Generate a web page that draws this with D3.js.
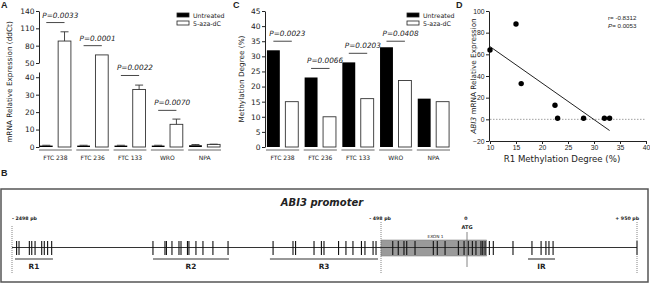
<!DOCTYPE html>
<html>
<head>
<meta charset="utf-8">
<script src="https://cdn.jsdelivr.net/npm/d3@7"></script>
<style>
  body { margin: 0; background: #fff; }
  text { font-family: "DejaVu Sans", sans-serif; fill: #222; }
</style>
</head>
<body>
<svg id="fig" width="650" height="284"></svg>
<script>
// ---- data ----
const groups = ["FTC 238", "FTC 236", "FTC 133", "WRO", "NPA"];

// panel A: ABI3 mRNA relative expression (ddCt), mean + error
const exprUntreated = [0.8, 0.8, 0.8, 0.8, 1.0];
const exprUntreatedErr = [0.2, 0.2, 0.2, 0.2, 0.4];
const exprTreated = [88, 64, 33, 13, 1.5];
const exprTreatedErr = [16, 0, 2.5, 3, 0.1];
const exprPText = ["P=0.0033", "P=0.0001", "P=0.0022", "P=0.0070"];
const exprPLevel = [120, 80, 41, 21];

// panel C: methylation degree (%)
const methUntreated = [32, 23, 28, 33, 16];
const methTreated = [15, 10, 16, 22, 15];
const methPText = ["P=0.0023", "P=0.0066", "P=0.0203", "P=0.0408"];
const methPLevel = [35, 26, 31, 35];

// panel D: R1 methylation vs ABI3 expression
const r1Methylation = [10, 15, 16, 22.5, 23, 28, 32, 33];
const r1Expression = [64, 88, 33, 13, 1, 1, 1, 1];

// panel B: promoter map (positions in bp relative to ATG)
const cpgSites = [-2473, -2460, -2404, -2391, -2373, -2337, -2323, -2305, -2283,
  -1734, -1669, -1661, -1631, -1593, -1582, -1547, -1539, -1501, -1463, -1409, -1327,
  -1083, -975, -961, -861, -821, -807, -728, -688, -650, -604, -585, -541, -525,
  -430, -398, -365, -349, -301, -195, -172, -127, -50, -17,
  7, 30, 50, 78, 88, 101, 125, 147, 257, 363, 414, 441, 458, 481, 950];
const regionNames = ["R1", "R2", "R3", "IR"];
const regionStart = [-2482, -1734, -1100, 341];
const regionEnd = [-2276, -1322, -514, 492];
const exon = [-498, 110];
const landmarkPos = [-2498, -498, 0, 950];
const landmarkText = ["- 2498 pb", "- 498 pb", "0", "+ 950 pb"];

const svg = d3.select("#fig");
const ink = "#222";

function styleAxis(g, size, family) {
  g.attr("font-family", family || "DejaVu Sans").attr("font-size", size || 7.5);
  g.select(".domain").attr("stroke", ink);
  g.selectAll(".tick line").attr("stroke", ink);
  g.selectAll(".tick text").attr("fill", ink).style("font-family", family || "DejaVu Sans");
}

function panelLabel(x, y, t) {
  svg.append("text").attr("x", x).attr("y", y).text(t)
    .style("font-family", "Liberation Sans").attr("font-weight", "bold").attr("font-size", 9);
}

function legend(x, y) {
  const g = svg.append("g").attr("transform", `translate(${x},${y})`);
  [["#000", "Untreated"], ["#fff", "5-aza-dC"]].forEach((d, i) => {
    g.append("rect").attr("x", 0).attr("y", i * 8).attr("width", 12).attr("height", 4)
      .attr("fill", d[0]).attr("stroke", ink).attr("stroke-width", 0.8);
    g.append("text").attr("x", 16).attr("y", i * 8 + 4.5).text(d[1]).attr("font-size", 6.3);
  });
}

// grouped bar panel shared by A and C
function barPanel(opt) {
  const x = d3.scaleBand().domain(groups).range(opt.range).paddingInner(0.12);
  const sub = d3.scaleBand().domain(["u", "t"]).range([0, x.bandwidth()])
    .paddingInner(0.3).paddingOuter(0.05);
  const y = opt.y;
  const base = y(0);
  const rows = groups.map((g, i) => ({
    g: g, u: opt.u[i], ue: opt.ue ? opt.ue[i] : 0, t: opt.t[i], te: opt.te ? opt.te[i] : 0
  }));

  const g = svg.append("g");
  rows.forEach(d => {
    const x0 = x(d.g);
    [["u", d.u, d.ue, "#000"], ["t", d.t, d.te, "#fff"]].forEach(b => {
      const bx = x0 + sub(b[0]);
      g.append("rect").attr("x", bx).attr("y", y(b[1])).attr("width", sub.bandwidth())
        .attr("height", base - y(b[1])).attr("fill", b[3])
        .attr("stroke", b[3] === "#000" ? "none" : "#333").attr("stroke-width", 0.9);
      if (b[2] > 0) {
        const cx = bx + sub.bandwidth() / 2;
        g.append("line").attr("x1", cx).attr("x2", cx).attr("y1", y(b[1])).attr("y2", y(b[1] + b[2]))
          .attr("stroke", "#333").attr("stroke-width", 0.9);
        g.append("line").attr("x1", cx - 4).attr("x2", cx + 4)
          .attr("y1", y(b[1] + b[2])).attr("y2", y(b[1] + b[2]))
          .attr("stroke", "#333").attr("stroke-width", 0.9);
      }
    });
    // group axis segment and label
    g.append("line").attr("x1", x0).attr("x2", x0 + x.bandwidth())
      .attr("y1", base + 3).attr("y2", base + 3).attr("stroke", "#666").attr("stroke-width", 1);
    g.append("text").attr("x", x0 + x.bandwidth() / 2).attr("y", base + 13)
      .attr("text-anchor", "middle").attr("font-size", 6).text(d.g);
  });

  // significance annotations
  opt.pText.forEach((t, i) => {
    const x0 = x(groups[i]);
    const c1 = x0 + sub("u") + sub.bandwidth() / 2;
    const c2 = x0 + sub("t") + sub.bandwidth() / 2;
    const ly = y(opt.pLevel[i]);
    g.append("line").attr("x1", c1).attr("x2", c2).attr("y1", ly).attr("y2", ly)
      .attr("stroke", "#333").attr("stroke-width", 0.9);
    g.append("text").attr("x", c1 - 4).attr("y", ly - 5).attr("font-size", 7.3)
      .attr("font-style", "italic").text(t);
  });
  return x;
}

// ---------- A ----------
const yLo = d3.scaleLinear().domain([0, 43]).range([147, 72]);
const yHi = d3.scaleLinear().domain([50, 140]).range([63, 11]);
const yA = v => v > 45 ? yHi(v) : yLo(v);

svg.append("g").attr("transform", "translate(39,0)")
  .call(d3.axisLeft(yLo).tickValues([0, 10, 20, 30, 40]).tickSize(3).tickSizeOuter(0).tickPadding(1.5))
  .call(styleAxis);
svg.append("g").attr("transform", "translate(39,0)")
  .call(d3.axisLeft(yHi).tickValues([50, 80, 110, 140]).tickSize(3).tickSizeOuter(0).tickPadding(1.5))
  .call(styleAxis);

barPanel({ range: [39, 221], y: yA, u: exprUntreated, ue: exprUntreatedErr,
  t: exprTreated, te: exprTreatedErr, pText: exprPText, pLevel: exprPLevel });

svg.append("text").attr("transform", "translate(12,82) rotate(-90)")
  .attr("text-anchor", "middle").attr("font-size", 7.3).text("mRNA Relative Expression (ddCt)");
legend(177, 13);
panelLabel(1, 8, "A");

// ---------- C ----------
const yC = d3.scaleLinear().domain([0, 45]).range([147, 11]);
svg.append("g").attr("transform", "translate(265,0)")
  .call(d3.axisLeft(yC).tickValues(d3.range(0, 46, 5)).tickSize(3).tickSizeOuter(0).tickPadding(1.5))
  .call(styleAxis);

barPanel({ range: [266, 450], y: yC, u: methUntreated, t: methTreated,
  pText: methPText, pLevel: methPLevel });

svg.append("text").attr("transform", "translate(244,79) rotate(-90)")
  .attr("text-anchor", "middle").attr("font-size", 7.3).text("Methylation Degree (%)");
legend(407, 13);
panelLabel(233, 8, "C");

// ---------- D ----------
const xD = d3.scaleLinear().domain([10, 40]).range([490, 646]);
const yD = d3.scaleLinear().domain([-20, 100]).range([141, 11]);

svg.append("g").attr("transform", "translate(489,0)")
  .call(d3.axisLeft(yD).tickValues(d3.range(-20, 101, 20)).tickSize(3).tickSizeOuter(0).tickPadding(1.5))
  .call(g => styleAxis(g, 6.8, "Liberation Sans"));
svg.append("g").attr("transform", "translate(0,141)")
  .call(d3.axisBottom(xD).tickValues(d3.range(10, 41, 5)).tickSize(3).tickSizeOuter(0).tickPadding(1.5))
  .call(g => styleAxis(g, 6.8, "Liberation Sans"));

svg.append("line").attr("x1", xD(10)).attr("x2", xD(40)).attr("y1", yD(0)).attr("y2", yD(0))
  .attr("stroke", "#888").attr("stroke-width", 0.8).attr("stroke-dasharray", "1.5,1.5");

// least squares fit through the points
const mx = d3.mean(r1Methylation), my = d3.mean(r1Expression);
const sxy = d3.sum(r1Methylation, (v, i) => (v - mx) * (r1Expression[i] - my));
const sxx = d3.sum(r1Methylation, v => (v - mx) * (v - mx));
const slope = sxy / sxx, icpt = my - slope * mx;
const xr = d3.extent(r1Methylation);
svg.append("line").attr("x1", xD(xr[0])).attr("x2", xD(xr[1]))
  .attr("y1", yD(icpt + slope * xr[0])).attr("y2", yD(icpt + slope * xr[1]))
  .attr("stroke", "#222").attr("stroke-width", 1);

svg.append("g").selectAll("circle")
  .data(r1Methylation.map((v, i) => [v, r1Expression[i]]))
  .enter().append("circle")
  .attr("cx", d => xD(d[0])).attr("cy", d => yD(d[1])).attr("r", 2.7).attr("fill", "#000");

svg.append("text").attr("x", 608).attr("y", 20).attr("font-size", 6.2)
  .style("font-family", "Liberation Sans").text("r= -0.8312");
const pt = svg.append("text").attr("x", 608).attr("y", 27.5).attr("font-size", 6.2)
  .style("font-family", "Liberation Sans");
pt.append("tspan").attr("font-style", "italic").text("P");
pt.append("tspan").text("= 0.0053");

const yl = svg.append("text").attr("transform", "translate(476,76) rotate(-90)")
  .attr("text-anchor", "middle").attr("font-size", 7.3);
yl.append("tspan").attr("font-style", "italic").text("ABI3");
yl.append("tspan").text(" mRNA Relative Expression");
svg.append("text").attr("x", 562).attr("y", 162).attr("text-anchor", "middle")
  .attr("font-size", 8.6).text("R1 Methylation Degree (%)");
panelLabel(456, 8, "D");

// ---------- B : promoter map ----------
panelLabel(1, 176, "B");
svg.append("rect").attr("x", 1).attr("y", 189).attr("width", 647).attr("height", 93)
  .attr("fill", "none").attr("stroke", "#555").attr("stroke-width", 1.5);
svg.append("text").attr("x", 322).attr("y", 206).attr("text-anchor", "middle")
  .attr("font-size", 10).attr("font-weight", "bold").attr("font-style", "italic")
  .text("ABI3 promoter");

const xB = d3.scaleLinear().domain(landmarkPos).range([12, 381, 467, 637]);
const lineY = 247.5;
const gB = svg.append("g");

gB.append("rect").attr("x", xB(exon[0])).attr("y", 240).attr("width", xB(exon[1]) - xB(exon[0]))
  .attr("height", 16).attr("fill", "#9a9a9a").attr("stroke", "#888").attr("stroke-width", 0.6);
gB.append("text").attr("x", xB((exon[0] + exon[1]) / 2) + 2).attr("y", 237.5)
  .attr("text-anchor", "middle").attr("font-size", 4.3).text("EXON 1");

gB.append("line").attr("x1", xB(landmarkPos[0])).attr("x2", xB(landmarkPos[3]))
  .attr("y1", lineY).attr("y2", lineY).attr("stroke", "#333").attr("stroke-width", 1.1);

gB.selectAll("line.cpg").data(cpgSites).enter().append("line").attr("class", "cpg")
  .attr("x1", d => xB(d)).attr("x2", d => xB(d)).attr("y1", 241).attr("y2", 255)
  .attr("stroke", "#111").attr("stroke-width", 1.1);

landmarkPos.forEach((p, i) => {
  const x = xB(p);
  const atg = p === 0;
  gB.append("line").attr("x1", x).attr("x2", x).attr("y1", atg ? 232 : (i === 0 ? 226 : 222))
    .attr("y2", atg ? 267 : 273).attr("stroke", "#777").attr("stroke-width", 0.9)
    .attr("stroke-dasharray", atg ? null : "1,1");
  const anchor = i === 0 ? "start" : (i === landmarkPos.length - 1 ? "end" : "middle");
  gB.append("text").attr("x", i === 0 ? x : (anchor === "end" ? x + 2 : x - 1)).attr("y", 220)
    .attr("text-anchor", anchor).attr("font-size", 4.7).attr("font-weight", "bold")
    .text(landmarkText[i]);
  if (atg) {
    gB.append("text").attr("x", x).attr("y", 229).attr("text-anchor", "middle")
      .attr("font-size", 5).attr("font-weight", "bold").text("ATG");
  }
});

regionNames.forEach((r, i) => {
  const x1 = xB(regionStart[i]), x2 = xB(regionEnd[i]);
  gB.append("line").attr("x1", x1).attr("x2", x2).attr("y1", 259).attr("y2", 259)
    .attr("stroke", "#333").attr("stroke-width", 1.1);
  gB.append("text").attr("x", (x1 + x2) / 2).attr("y", 268.5).attr("text-anchor", "middle")
    .attr("font-size", 7.3).attr("font-weight", "bold").text(r);
});
</script>
</body>
</html>
